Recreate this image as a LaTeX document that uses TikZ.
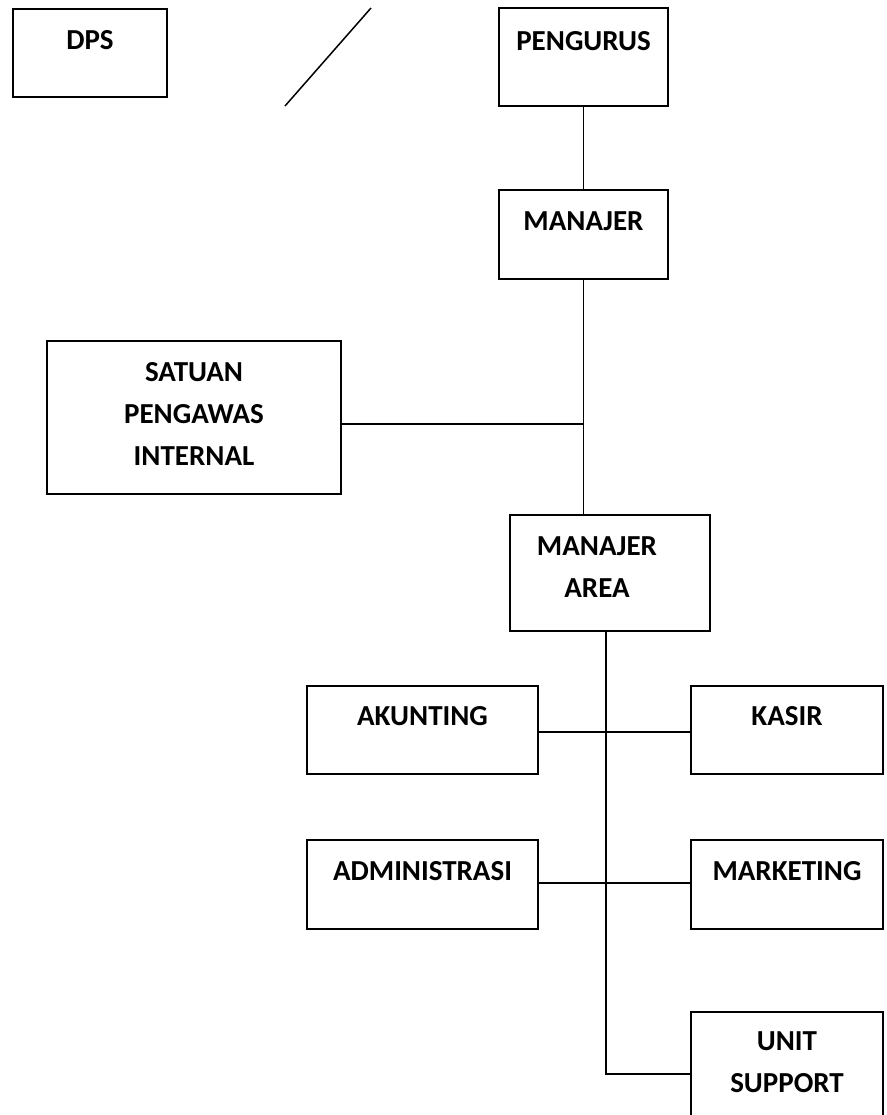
\documentclass[tikz,border=0pt]{standalone}
\usepackage{fontspec}
\setmainfont{Carlito}
\begin{document}
\begin{tikzpicture}[x=1pt,y=-1pt,
  box/.style={draw, line width=1.8pt, rectangle, inner sep=0pt},
  lbl/.style={font=\bfseries\fontsize{29}{42}\selectfont, inner sep=0pt, align=center},
  conn/.style={line width=1.5pt}]
\useasboundingbox (0,0) rectangle (886,1115);
\clip (0,0) rectangle (886,1115);
\fill[white] (0,0) rectangle (886,1115);
% boxes
\node[box, minimum width=154pt, minimum height=88pt] (dps) at (90,53) {};
\node[box, minimum width=169pt, minimum height=98pt] (pengurus) at (583.5,57) {};
\node[box, minimum width=169pt, minimum height=89pt] (manajer) at (583.5,234.5) {};
\node[box, minimum width=294pt, minimum height=153pt] (spi) at (194,417.5) {};
\node[box, minimum width=200pt, minimum height=116pt] (area) at (610,573) {};
\node[box, minimum width=231pt, minimum height=88pt] (akunting) at (422.5,730) {};
\node[box, minimum width=192pt, minimum height=88pt] (kasir) at (787,730) {};
\node[box, minimum width=231pt, minimum height=89pt] (admin) at (422.5,884.5) {};
\node[box, minimum width=192pt, minimum height=89pt] (marketing) at (787,884.5) {};
\node[box, minimum width=192pt, minimum height=160pt] (unit) at (787,1092) {};
% labels
\node[lbl] (dps-t) at (90,40) {DPS};
\node[lbl] (pengurus-t) at (583.5,41) {PENGURUS};
\node[lbl] (manajer-t) at (583.5,221) {MANAJER};
\node[lbl] (spi-t) at (194,414) {SATUAN\\PENGAWAS\\INTERNAL};
\node[lbl] (area-t) at (597,567) {MANAJER\\AREA};
\node[lbl] (akunting-t) at (422.5,716) {AKUNTING};
\node[lbl] (kasir-t) at (787,716) {KASIR};
\node[lbl] (admin-t) at (422.5,871) {ADMINISTRASI};
\node[lbl] (marketing-t) at (787,871) {MARKETING};
\node[lbl] (unit-t) at (787,1062) {UNIT\\SUPPORT};
% helper coordinates
\coordinate (j1) at (584,424);
\coordinate (t0) at (606,631);
\coordinate (r1) at (606,732);
\coordinate (r2) at (606,883);
\coordinate (r3) at (606,1074);
\coordinate (d1) at (371,8);
\coordinate (d2) at (285,106);
% connectors
\draw[conn] (pengurus.south) -- (manajer.north);
\draw[conn] (manajer.south) -- (manajer.south |- area.north);
\draw[conn] (spi.east |- j1) -- (j1);
\draw[conn] (t0) -- (r3) -- (unit.west |- r3);
\draw[conn] (akunting.east |- r1) -- (kasir.west |- r1);
\draw[conn] (admin.east |- r2) -- (marketing.west |- r2);
\draw[conn] (d1) -- (d2);
\end{tikzpicture}
\end{document}
